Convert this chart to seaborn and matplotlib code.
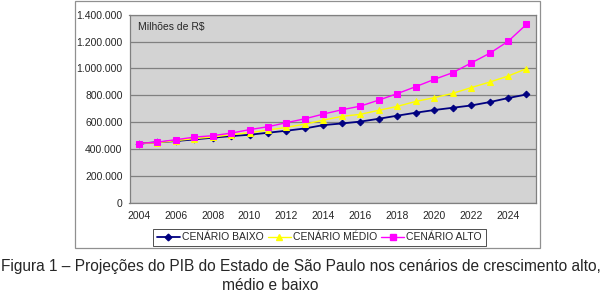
import pandas as pd
import numpy as np
import matplotlib
matplotlib.use("Agg")
import matplotlib.pyplot as plt
import matplotlib.ticker as mticker
from matplotlib.lines import Line2D
from matplotlib.patches import Rectangle
import seaborn as sns

# Data (in R$ millions)
years = list(range(2004, 2026))
baixo = [440000, 450000, 459000, 471000, 484000, 496000, 506000, 521000, 536000, 553000, 578000,
         590000, 604000, 625000, 648000, 670000, 690000, 707000, 724000, 749000, 779000, 806000]
medio = [440000, 447000, 462000, 477000, 489000, 506000, 521000, 541000, 561000, 585000, 615000,
         643000, 658000, 688000, 717000, 754000, 782000, 814000, 857000, 898000, 943000, 998000]
alto = [440000, 451000, 469000, 488000, 499000, 518000, 544000, 566000, 596000, 625000, 660000,
        692000, 719000, 764000, 812000, 864000, 918000, 968000, 1040000, 1112000, 1201000, 1328000]
series_names = ["CENÁRIO BAIXO", "CENÁRIO MÉDIO", "CENÁRIO ALTO"]

df = pd.concat([
    pd.DataFrame({"Ano": years, "PIB": vals, "Cenario": name})
    for name, vals in zip(series_names, [baixo, medio, alto])
])

colors = {"CENÁRIO BAIXO": "#000080", "CENÁRIO MÉDIO": "#FFFF00", "CENÁRIO ALTO": "#FF00FF"}
markers = {"CENÁRIO BAIXO": "D", "CENÁRIO MÉDIO": "^", "CENÁRIO ALTO": "s"}
msizes = {"CENÁRIO BAIXO": 3.4, "CENÁRIO MÉDIO": 4.6, "CENÁRIO ALTO": 4.0}
lwidths = {"CENÁRIO BAIXO": 1.3, "CENÁRIO MÉDIO": 1.0, "CENÁRIO ALTO": 1.0}

sns.set_style("white")
plt.rcParams['font.family'] = ['Liberation Sans', 'DejaVu Sans']

fig = plt.figure(figsize=(6.16, 2.96), dpi=100)
W, H = 616, 296
ax = fig.add_axes([129.5 / W, 1 - 202.7 / H, (535.7 - 129.5) / W, (202.7 - 14.7) / H])
ax.set_facecolor("#D3D3D3")

for name in series_names:
    sub = df[df["Cenario"] == name]
    sns.lineplot(data=sub, x="Ano", y="PIB", ax=ax, color=colors[name], marker=markers[name],
                 markersize=msizes[name], markeredgecolor=colors[name], linewidth=lwidths[name],
                 legend=False)

ax.set_xlim(2003.5, 2025.5)
ax.set_ylim(0, 1400000)
ax.set_xticks(range(2004, 2025, 2))
ax.set_xticks(np.arange(2003.5, 2026, 1), minor=True)
ax.set_yticks(range(0, 1400001, 200000))
ax.yaxis.set_major_formatter(mticker.FuncFormatter(lambda v, p: f"{int(v):,}".replace(",", ".")))
ax.tick_params(axis="x", which="major", length=0, labelsize=7.5, pad=6)
ax.tick_params(axis="x", which="minor", length=3, color="#808080", direction="out")
ax.tick_params(axis="y", length=3, color="#808080", direction="out", labelsize=7.5, pad=2)
ax.set_xlabel("")
ax.set_ylabel("")
ax.yaxis.grid(True, color="#808080", linewidth=0.9)
ax.set_axisbelow(True)
for s in ax.spines.values():
    s.set_color("#808080")
    s.set_linewidth(0.9)

ax.text(0.022, 0.96, "Milhões de R$", transform=ax.transAxes, fontsize=7.5, va="top", ha="left")

handles = [Line2D([0], [0], color=colors[n], marker=markers[n], markersize=msizes[n],
                  markeredgecolor=colors[n], linewidth=lwidths[n]) for n in series_names]
leg = fig.legend(handles, series_names, loc="center", ncol=3,
                 bbox_to_anchor=(319.5 / W, 1 - 237.5 / H), fontsize=7.5, frameon=True,
                 fancybox=False, edgecolor="black", handlelength=2.2, handletextpad=0.2,
                 columnspacing=0.4, borderpad=0.35)
leg.get_frame().set_linewidth(0.6)

# outer chart border
fig.patches.append(Rectangle((74.7 / W, 1 - 247.7 / H), (540 - 74.7) / W, (247.7 - 0.6) / H,
                             transform=fig.transFigure, fill=False, edgecolor="#909090",
                             linewidth=0.9))

fig.text(1 / W, 1 - 266 / H, "Figura 1 – Projeções do PIB do Estado de São Paulo nos cenários de crescimento alto,",
         fontsize=11.2, ha="left", va="center")
fig.text(222 / W, 1 - 285 / H, "médio e baixo", fontsize=11.2, ha="left", va="center")

fig.savefig("out.png", dpi=100)
